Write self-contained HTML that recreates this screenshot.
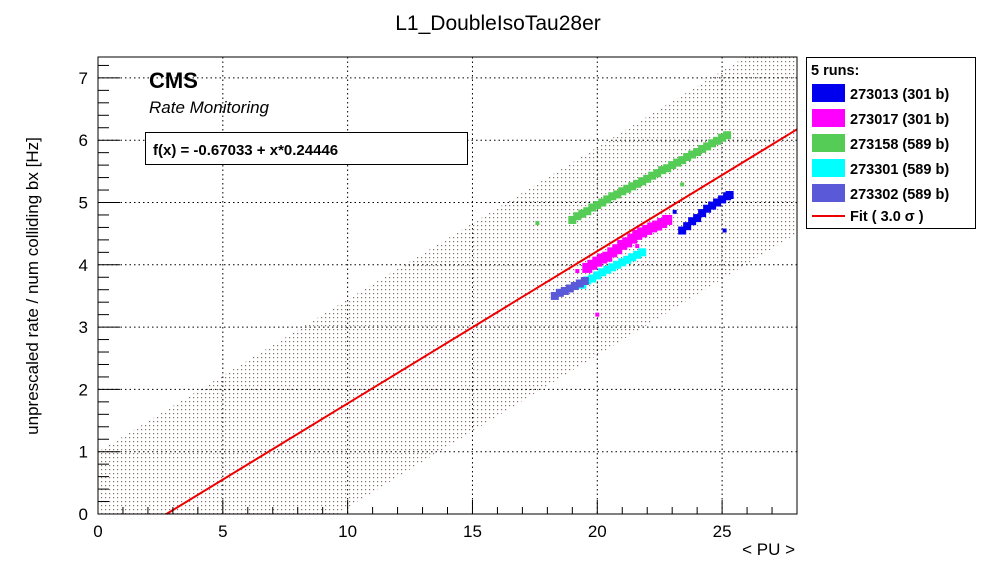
<!DOCTYPE html>
<html><head><meta charset="utf-8"><style>
body{margin:0;background:#fff;}
svg{display:block;font-family:"Liberation Sans",Arial,sans-serif;}
</style></head><body>
<svg id="c" width="996" height="572" viewBox="0 0 996 572">
<defs><pattern id="dots" width="4" height="4" patternUnits="userSpaceOnUse"><rect x="1" y="1" width="1.2" height="1.2" fill="#8a6a6a"/></pattern></defs>
<rect width="996" height="572" fill="#fff"/>
<text x="498" y="30" font-size="21" text-anchor="middle">L1_DoubleIsoTau28er</text>
<g id="plot"></g>
</svg>
<script>
const xTicks=[0,5,10,15,20,25];
const yTicks=[0,1,2,3,4,5,6,7];
const fitA=-0.67033, fitB=0.24446, band=1.67;
const runs=['273013 (301 b)','273017 (301 b)','273158 (589 b)','273301 (589 b)','273302 (589 b)'];
const colors=['#0000ee','#ff00ff','#55cc55','#00ffff','#5a5ad8'];
const greenX=[19.0,19.2,19.4,19.6,19.8,20.0,20.2,20.4,20.6,20.8,21.0,21.2,21.4,21.6,21.8,22.0,22.2,22.4,22.6,22.8,23.0,23.2,23.4,23.6,23.8,24.0,24.2,24.4,24.6,24.8,25.0,25.2,17.6,23.4];
const greenY=[4.72,4.78,4.82,4.86,4.92,4.96,5.0,5.05,5.1,5.13,5.18,5.22,5.26,5.3,5.34,5.38,5.43,5.47,5.52,5.55,5.6,5.64,5.68,5.73,5.77,5.81,5.86,5.9,5.95,5.99,6.04,6.08,4.67,5.29];
const magX=[19.6,19.8,20.0,20.2,20.4,20.6,20.8,21.0,21.2,21.4,21.6,21.8,22.0,22.2,22.4,22.6,22.8,20.0,19.2,21.6];
const magY=[3.95,4.0,4.05,4.1,4.13,4.2,4.25,4.32,4.36,4.42,4.48,4.52,4.56,4.6,4.63,4.67,4.72,3.2,3.9,4.3];
const cyanX=[19.4,19.6,19.8,20.0,20.2,20.4,20.6,20.8,21.0,21.2,21.4,21.6,21.8];
const cyanY=[3.68,3.75,3.78,3.83,3.88,3.92,3.96,4.0,4.04,4.08,4.12,4.16,4.2];
const purpX=[18.3,18.5,18.7,18.9,19.1,19.3,19.5];
const purpY=[3.5,3.55,3.58,3.62,3.66,3.7,3.74];
const blueX=[23.4,23.6,23.8,24.0,24.2,24.4,24.6,24.8,25.0,25.2,25.3,23.1,25.1];
const blueY=[4.55,4.62,4.7,4.75,4.83,4.9,4.95,5.0,5.05,5.1,5.12,4.85,4.55];
const outliers=[2,3,2,0,0];
const X0=98,X1=797,Y0=514,YT=57;
const xs=v=>X0+v*(X1-X0)/28, ys=v=>Y0-v*62.3;
const NS='http://www.w3.org/2000/svg', g=document.getElementById('plot');
function mk(t,a,p){const e=document.createElementNS(NS,t);for(const k in a)e.setAttribute(k,a[k]);(p||g).appendChild(e);return e;}
const ymax=(Y0-YT)/62.3;
const steps=[];for(let i=0;i<=280;i++)steps.push(i/10);
const up=steps.map(x=>[xs(x),ys(Math.min(ymax,Math.max(0,fitA+band+fitB*x)))]);
const lo=steps.map(x=>[xs(x),ys(Math.min(ymax,Math.max(0,fitA-band+fitB*x)))]).reverse();
let bp=mk('polygon',{points:up.concat(lo).map(p=>p.join(',')).join(' '),fill:'url(#dots)'});


xTicks.forEach(v=>{if(v>0){let l=mk('line',{x1:xs(v),x2:xs(v),y1:YT,y2:Y0,stroke:'#000','stroke-dasharray':'1.5,3','stroke-width':1});}});
yTicks.forEach(v=>{if(v>0){let l=mk('line',{x1:X0,x2:X1,y1:ys(v),y2:ys(v),stroke:'#000','stroke-dasharray':'1.5,3','stroke-width':1});}});
const series=[[blueX,blueY,0],[magX,magY,1],[greenX,greenY,2],[cyanX,cyanY,3],[purpX,purpY,4]];
series.forEach(([X,Y,c])=>{X.forEach((x,i)=>{
  const w=(i<X.length-outliers[c])?(c==1?10:8):4;
  let r=mk('rect',{x:xs(x)-w/2,y:ys(Y[i])-w/2,width:w,height:w,fill:colors[c]});
  
  
});});
const x0=-fitA/fitB;
let fl=mk('line',{x1:xs(x0),y1:ys(0),x2:xs(28),y2:ys(fitA+fitB*28),stroke:'#ee0000','stroke-width':2});


let fr=mk('rect',{x:X0,y:YT,width:X1-X0,height:Y0-YT,fill:'none',stroke:'#000','stroke-width':1});


for(let v=0;v<=28;v++){const maj=v%5==0;mk('line',{x1:xs(v),x2:xs(v),y1:Y0,y2:Y0-(maj?14:7),stroke:'#000'});}
for(let v=0;v<=ymax+1e-6;v+=0.2){const maj=Math.abs(v-Math.round(v))<1e-6;mk('line',{x1:X0,x2:X0+(maj?22:11),y1:ys(v),y2:ys(v),stroke:'#000'});}
xTicks.forEach(v=>{let t=mk('text',{x:xs(v),y:537,'font-size':17,'text-anchor':'middle'});t.textContent=v;});
yTicks.forEach(v=>{let t=mk('text',{x:88,y:ys(v)+6,'font-size':17,'text-anchor':'end'});t.textContent=v;});
</script>
<svg style="position:absolute;left:0;top:0" width="996" height="572">
<text x="795" y="555" font-size="17" text-anchor="end" font-family="Liberation Sans,sans-serif">&lt; PU &gt;</text>
<text transform="translate(38,286) rotate(-90)" font-size="17" text-anchor="middle" font-family="Liberation Sans,sans-serif">unprescaled rate / num colliding bx [Hz]</text>
<text x="149" y="88" font-size="22" font-weight="bold" font-family="Liberation Sans,sans-serif">CMS</text>
<text x="149" y="113" font-size="17" font-style="italic" font-family="Liberation Sans,sans-serif">Rate Monitoring</text>
<g><rect x="145.5" y="132.5" width="322" height="32" fill="#fff" stroke="#000"/>
<text x="153" y="155" font-size="15" font-weight="bold" font-family="Liberation Sans,sans-serif">f(x) = -0.67033 + x*0.24446</text></g>
<g font-family="Liberation Sans,sans-serif" font-size="14.5" font-weight="bold">
<rect x="806.5" y="57.5" width="169" height="171" fill="#fff" stroke="#000"/>
<text x="811" y="75">5 runs:</text>
<rect x="812" y="84" width="33" height="18" fill="#0000ee"/><text x="850" y="99">273013 (301 b)</text>
<rect x="812" y="109" width="33" height="18" fill="#ff00ff"/><text x="850" y="124">273017 (301 b)</text>
<rect x="812" y="134" width="33" height="18" fill="#55cc55"/><text x="850" y="149">273158 (589 b)</text>
<rect x="812" y="159" width="33" height="18" fill="#00ffff"/><text x="850" y="174">273301 (589 b)</text>
<rect x="812" y="184" width="33" height="18" fill="#5a5ad8"/><text x="850" y="199">273302 (589 b)</text>
<line x1="812" y1="216" x2="845" y2="216" stroke="#ee0000" stroke-width="2"/><text x="850" y="221">Fit ( 3.0 σ )</text>
</g>
</svg>
</body></html>
